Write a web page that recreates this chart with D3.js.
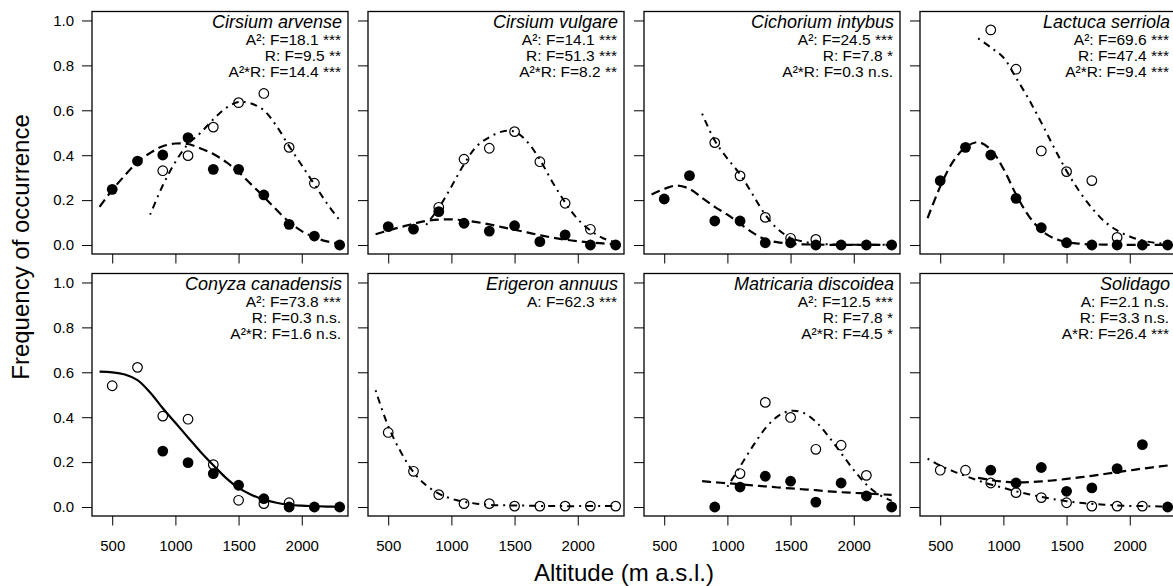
<!DOCTYPE html>
<html>
<head>
<meta charset="utf-8">
<script src="https://cdn.jsdelivr.net/npm/d3@7"></script>
<style>
  html, body { margin: 0; padding: 0; background: #fff; }
  svg { display: block; font-family: "Liberation Sans", Arial, Helvetica, sans-serif; }
</style>
</head>
<body>
<script>
// Sampling altitudes (m a.s.l.) of the observed frequencies
const altitudes = [500, 700, 900, 1100, 1300, 1500, 1700, 1900, 2100, 2300];
// Altitude grid of the fitted response curves
const curveAlt = [400, 500, 600, 700, 800, 900, 1000, 1100, 1200, 1300,
                  1400, 1500, 1600, 1700, 1800, 1900, 2000, 2100, 2200, 2300];

const xTicks = [500, 1000, 1500, 2000];
const yTicks = [0, 0.2, 0.4, 0.6, 0.8, 1.0];

const speciesNames = ["Cirsium arvense", "Cirsium vulgare", "Cichorium intybus", "Lactuca serriola",
                      "Conyza canadensis", "Erigeron annuus", "Matricaria discoidea", "Solidago"];

const statLines = [
  ["A²: F=18.1 ***", "R: F=9.5 **", "A²*R: F=14.4 ***"],
  ["A²: F=14.1 ***", "R: F=51.3 ***", "A²*R: F=8.2 **"],
  ["A²: F=24.5 ***", "R: F=7.8 *", "A²*R: F=0.3 n.s."],
  ["A²: F=69.6 ***", "R: F=47.4 ***", "A²*R: F=9.4 ***"],
  ["A²: F=73.8 ***", "R: F=0.3 n.s.", "A²*R: F=1.6 n.s."],
  ["A: F=62.3 ***"],
  ["A²: F=12.5 ***", "R: F=7.8 *", "A²*R: F=4.5 *"],
  ["A: F=2.1 n.s.", "R: F=3.3 n.s.", "A*R: F=26.4 ***"]
];

// Observed frequencies: filled = one road type, open = the other (null = not recorded)
const arvenseFilled   = [0.248, 0.374, 0.401, 0.478, 0.337, 0.337, 0.223, 0.092, 0.040, 0.000];
const arvenseOpen     = [null, null, 0.331, 0.398, 0.525, 0.634, 0.675, 0.435, 0.275, null];
const vulgareFilled   = [0.082, 0.071, 0.149, 0.097, 0.062, 0.086, 0.015, 0.045, 0.000, 0.000];
const vulgareOpen     = [null, null, 0.168, 0.382, 0.431, 0.505, 0.371, 0.186, 0.070, null];
const intybusFilled   = [0.205, 0.309, 0.107, 0.107, 0.010, 0.010, 0.000, 0.000, 0.000, 0.000];
const intybusOpen     = [null, null, 0.456, 0.308, 0.123, 0.030, 0.025, null, null, null];
const serriolaFilled  = [0.287, 0.435, 0.401, 0.208, 0.077, 0.010, 0.000, 0.000, 0.000, 0.000];
const serriolaOpen    = [null, null, 0.958, 0.783, 0.419, 0.327, 0.287, 0.034, null, null];
const conyzaFilled    = [null, null, 0.249, 0.198, 0.149, 0.097, 0.037, 0.000, 0.000, 0.000];
const conyzaOpen      = [0.540, 0.622, 0.405, 0.391, 0.189, 0.030, 0.015, 0.019, null, null];
const erigeronFilled  = [null, null, null, null, null, null, null, null, null, null];
const erigeronOpen    = [0.332, 0.159, 0.055, 0.015, 0.015, 0.004, 0.004, 0.004, 0.004, 0.004];
const matricariaFilled = [null, null, 0.000, 0.089, 0.137, 0.115, 0.022, 0.107, 0.049, 0.000];
const matricariaOpen   = [null, null, null, 0.149, 0.466, 0.399, 0.257, 0.275, 0.141, null];
const solidagoFilled  = [null, null, 0.164, 0.107, 0.176, 0.070, 0.085, 0.171, 0.278, 0.000];
const solidagoOpen    = [0.164, 0.164, 0.107, 0.064, 0.042, 0.019, 0.004, 0.004, 0.004, null];

// Fitted response curves on the curveAlt grid (null = outside the fitted range)
const arvenseFilledFit = [0.17, 0.245, 0.31, 0.37, 0.41, 0.44, 0.452, 0.45, 0.43, 0.405,
                          0.37, 0.325, 0.27, 0.215, 0.157, 0.103, 0.062, 0.034, 0.016, 0.005];
const arvenseOpenFit   = [null, null, null, null, 0.135, 0.265, 0.37, 0.45, 0.5, 0.56,
                          0.61, 0.637, 0.63, 0.6, 0.53, 0.44, 0.355, 0.27, 0.185, 0.11];
const vulgareFilledFit = [0.048, 0.065, 0.08, 0.095, 0.107, 0.113, 0.114, 0.11, 0.102, 0.092,
                          0.08, 0.068, 0.056, 0.044, 0.033, 0.024, 0.017, 0.011, 0.007, 0.004];
const vulgareOpenFit   = [null, null, null, null, 0.09, 0.165, 0.26, 0.36, 0.44, 0.48,
                          0.505, 0.505, 0.46, 0.38, 0.28, 0.19, 0.115, 0.065, 0.03, 0.012];
const intybusFilledFit = [0.225, 0.25, 0.265, 0.25, 0.21, 0.17, 0.135, 0.095, 0.055, 0.025,
                          0.012, 0.006, 0.003, 0.002, 0.001, 0.001, 0.001, 0.001, 0.001, 0.001];
const intybusOpenFit   = [null, null, null, null, 0.585, 0.465, 0.385, 0.315, 0.225, 0.135,
                          0.07, 0.032, 0.015, 0.007, 0.003, 0.002, 0.001, 0.001, 0.001, 0.001];
const serriolaFilledFit = [0.12, 0.26, 0.37, 0.435, 0.458, 0.425, 0.34, 0.225, 0.13, 0.065,
                           0.03, 0.013, 0.006, 0.003, 0.002, 0.001, 0.001, 0.001, 0.001, 0.001];
const serriolaOpenFit   = [null, null, null, null, 0.92, 0.88, 0.835, 0.745, 0.65, 0.545,
                           0.435, 0.33, 0.24, 0.165, 0.105, 0.065, 0.038, 0.02, 0.01, 0.005];
const conyzaPooledFit   = [0.603, 0.6, 0.59, 0.565, 0.51, 0.44, 0.375, 0.31, 0.245, 0.186,
                           0.13, 0.085, 0.055, 0.033, 0.019, 0.01, 0.006, 0.004, 0.002, 0.001];
const erigeronOpenFit   = [0.52, 0.36, 0.245, 0.155, 0.097, 0.06, 0.037, 0.023, 0.015, 0.01,
                           0.008, 0.007, 0.006, 0.005, 0.005, 0.004, 0.004, 0.004, 0.004, 0.004];
const matricariaFilledFit = [null, null, null, null, 0.115, 0.11, 0.106, 0.101, 0.096, 0.092,
                             0.087, 0.083, 0.079, 0.075, 0.07, 0.066, 0.063, 0.06, 0.057, 0.054];
const matricariaOpenFit   = [null, null, null, null, null, null, 0.09, 0.18, 0.27, 0.35,
                             0.405, 0.428, 0.42, 0.38, 0.315, 0.24, 0.165, 0.1, 0.055, 0.028];
const solidagoFilledFit   = [null, null, null, null, 0.13, 0.12, 0.113, 0.11, 0.111, 0.114,
                             0.119, 0.125, 0.132, 0.139, 0.147, 0.155, 0.163, 0.171, 0.178, 0.185];
const solidagoOpenFit     = [0.215, 0.185, 0.16, 0.138, 0.118, 0.1, 0.085, 0.07, 0.057, 0.045,
                             0.035, 0.026, 0.019, 0.014, 0.01, 0.007, 0.005, 0.004, 0.003, 0.002];

const filledSeries = [arvenseFilled, vulgareFilled, intybusFilled, serriolaFilled,
                      conyzaFilled, erigeronFilled, matricariaFilled, solidagoFilled];
const openSeries   = [arvenseOpen, vulgareOpen, intybusOpen, serriolaOpen,
                      conyzaOpen, erigeronOpen, matricariaOpen, solidagoOpen];
const fitSeries = [
  [["filled", arvenseFilledFit], ["open", arvenseOpenFit]],
  [["filled", vulgareFilledFit], ["open", vulgareOpenFit]],
  [["filled", intybusFilledFit], ["open", intybusOpenFit]],
  [["filled", serriolaFilledFit], ["open", serriolaOpenFit]],
  [["pooled", conyzaPooledFit]],
  [["open", erigeronOpenFit]],
  [["filled", matricariaFilledFit], ["open", matricariaOpenFit]],
  [["filled", solidagoFilledFit], ["open", solidagoOpenFit]]
];

// ---- layout ----
const W = 1173, H = 586;
const left0 = 92, top0 = 11.5;
const panelW = 256, panelH = 242.5, gapX = 20, gapY = 19.5;

const lineStyles = {
  filled: { dash: "9,5", width: 2.2 },
  open:   { dash: "2,5,7,5", width: 2 },
  pooled: { dash: null, width: 2.2 }
};

const svg = d3.select("body").append("svg")
  .attr("width", W).attr("height", H)
  .attr("viewBox", `0 0 ${W} ${H}`);

const x = d3.scaleLinear().domain([340, 2366]).range([0, panelW]);
const y = d3.scaleLinear().domain([-0.04, 1.04]).range([panelH, 0]);
const fmtY = d3.format(".1f");

const line = d3.line()
  .defined(d => d[1] != null)
  .x(d => x(d[0]))
  .y(d => y(d[1]))
  .curve(d3.curveCatmullRom.alpha(0.5));

speciesNames.forEach((name, i) => {
  const col = i % 4, row = Math.floor(i / 4);
  const g = svg.append("g")
    .attr("transform", `translate(${left0 + col * (panelW + gapX)},${top0 + row * (panelH + gapY)})`);

  // y axis
  const ya = d3.axisLeft(y).tickValues(yTicks).tickSize(10).tickSizeOuter(0).tickPadding(8)
    .tickFormat(col === 0 ? fmtY : () => "");
  const yg = g.append("g").call(ya);
  yg.select(".domain").remove();
  yg.selectAll("line").attr("stroke", "#000").attr("stroke-width", 1);
  yg.selectAll("text").attr("font-size", 15).attr("fill", "#000")
    .attr("font-family", "'Liberation Sans', Arial, sans-serif");

  // x axis
  const xa = d3.axisBottom(x).tickValues(xTicks).tickSize(9.5).tickSizeOuter(0).tickPadding(15)
    .tickFormat(row === 1 ? d3.format("d") : () => "");
  const xg = g.append("g").attr("transform", `translate(0,${panelH})`).call(xa);
  xg.select(".domain").remove();
  xg.selectAll("line").attr("stroke", "#000").attr("stroke-width", 1);
  xg.selectAll("text").attr("font-size", 15).attr("fill", "#000")
    .attr("font-family", "'Liberation Sans', Arial, sans-serif");

  // open circles
  const openPts = altitudes.map((a, k) => [a, openSeries[i][k]]).filter(d => d[1] != null);
  g.append("g").selectAll("circle").data(openPts).join("circle")
    .attr("cx", d => x(d[0])).attr("cy", d => y(d[1])).attr("r", 4.8)
    .attr("fill", "none").attr("stroke", "#000").attr("stroke-width", 1.2);

  // filled circles
  const filledPts = altitudes.map((a, k) => [a, filledSeries[i][k]]).filter(d => d[1] != null);
  g.append("g").selectAll("circle").data(filledPts).join("circle")
    .attr("cx", d => x(d[0])).attr("cy", d => y(d[1])).attr("r", 5.4)
    .attr("fill", "#000");

  // fitted curves
  fitSeries[i].forEach(([kind, vals]) => {
    const st = lineStyles[kind];
    g.append("path")
      .datum(curveAlt.map((a, k) => [a, vals[k]]))
      .attr("d", line)
      .attr("fill", "none")
      .attr("stroke", "#000")
      .attr("stroke-width", st.width)
      .attr("stroke-dasharray", st.dash);
  });

  // frame
  g.append("rect").attr("x", 0).attr("y", 0).attr("width", panelW).attr("height", panelH)
    .attr("fill", "none").attr("stroke", "#000").attr("stroke-width", 1.3);

  // species name
  g.append("text")
    .attr("x", panelW - 6).attr("y", 16)
    .attr("text-anchor", "end")
    .attr("font-size", 18).attr("font-style", "italic").attr("fill", "#000")
    .text(name);

  // test statistics
  statLines[i].forEach((s, k) => {
    g.append("text")
      .attr("x", panelW - 7).attr("y", 33 + k * 16.2)
      .attr("text-anchor", "end")
      .attr("font-size", 15.5).attr("fill", "#000")
      .text(s);
  });
});

// axis titles
svg.append("text")
  .attr("transform", "translate(29,247) rotate(-90)")
  .attr("text-anchor", "middle")
  .attr("font-size", 24).attr("fill", "#000")
  .text("Frequency of occurrence");

svg.append("text")
  .attr("x", 624).attr("y", 581)
  .attr("text-anchor", "middle")
  .attr("font-size", 24).attr("fill", "#000")
  .text("Altitude (m a.s.l.)");
</script>
</body>
</html>
